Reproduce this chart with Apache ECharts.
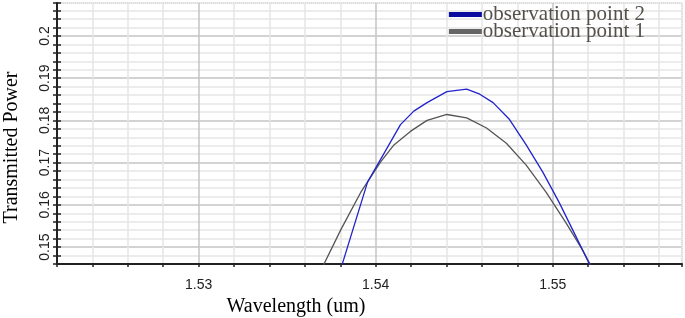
<!DOCTYPE html>
<html>
<head>
<meta charset="utf-8">
<script src="https://cdn.jsdelivr.net/npm/echarts@6/dist/echarts.min.js"></script>
<style>html,body{margin:0;padding:0;background:#fff}#c{width:685px;height:318px}</style>
</head>
<body>
<div id="c"></div>
<script>
// Data
var seriesNames = ['observation point 2', 'observation point 1'];
var wavelength2 = [1.53804, 1.53954, 1.54047, 1.54140, 1.54215, 1.54290, 1.54402, 1.54514, 1.54588, 1.54663, 1.54756, 1.54850, 1.54943, 1.55036, 1.55130, 1.55214];
var power2      = [0.1450, 0.1654, 0.1722, 0.1790, 0.1822, 0.1842, 0.1868, 0.1874, 0.1862, 0.1842, 0.1802, 0.1742, 0.1678, 0.1606, 0.1526, 0.1454];
var wavelength1 = [1.53701, 1.53804, 1.53916, 1.54028, 1.54103, 1.54196, 1.54290, 1.54402, 1.54514, 1.54626, 1.54738, 1.54850, 1.54962, 1.55074, 1.55167, 1.55223];
var power1      = [0.1454, 0.1542, 0.1630, 0.1702, 0.1742, 0.1774, 0.1800, 0.1814, 0.1806, 0.1782, 0.1746, 0.1694, 0.1630, 0.1558, 0.1494, 0.1450];
var xTickLabels = ['1.53', '1.54', '1.55'];
var yTickLabels = ['0.15', '0.16', '0.17', '0.18', '0.19', '0.2'];

function pairs(xs, ys) { return xs.map(function (x, i) { return [x, ys[i]]; }); }
function fmt(v) { return String(+v.toFixed(2)); }

var chart = echarts.init(document.getElementById('c'));
var minor = '#e6e6e6', major = '#c4c4c4';
chart.setOption({
  animation: false,
  backgroundColor: '#fff',
  grid: { left: 57, right: 3, top: 3, bottom: 54, show: true, borderColor: '#8a8a8a', borderWidth: 1, borderType: 'dotted', backgroundColor: 'transparent', containLabel: false, outerBoundsMode: 'none' },
  legend: {
    orient: 'vertical', right: 40, top: 4, padding: 0,
    itemWidth: 33, itemHeight: 5, itemGap: -4, icon: 'rect',
    textStyle: { fontFamily: 'Liberation Serif', fontSize: 21, color: '#55504a', lineHeight: 16, padding: [0, 0, 0, -4] },
    data: [
      { name: seriesNames[0], itemStyle: { color: '#0a0aa0' } },
      { name: seriesNames[1], itemStyle: { color: '#666666' } }
    ]
  },
  xAxis: {
    type: 'value', min: 1.522, max: 1.5573, interval: 0.002,
    name: 'Wavelength (um)', nameLocation: 'middle', nameGap: 23,
    nameTextStyle: { fontFamily: 'Liberation Serif', fontSize: 20, color: '#000', padding: [0, 147, 0, 0] },
    axisLine: { onZero: false, lineStyle: { color: '#222', width: 2 } },
    axisTick: { show: true, length: 3, lineStyle: { color: '#222', width: 1.5 } },
    axisLabel: {
      margin: 14, fontFamily: 'Liberation Sans', fontSize: 14, color: '#222',
      formatter: function (v) { var s = fmt(v); return (Math.abs(v * 100 - Math.round(v * 100)) < 1e-6 && xTickLabels.indexOf(s) >= 0) ? s : ''; }
    },
    splitLine: { show: true, lineStyle: { color: [minor, minor, minor, minor, major], width: 1.5 } }
  },
  yAxis: [{
    type: 'value', min: 0.146, max: 0.2078, interval: 0.002,
    name: 'Transmitted Power', nameLocation: 'middle', nameGap: 35, nameRotate: 90,
    nameTextStyle: { fontFamily: 'Liberation Serif', fontSize: 20, color: '#000', padding: [0, 28, 0, 0] },
    axisLine: { onZero: false, lineStyle: { color: '#222', width: 2 } },
    axisTick: { show: true, length: 4, lineStyle: { color: '#222', width: 1.5 } },
    axisLabel: {
      rotate: 90, margin: 5, fontFamily: 'Liberation Sans', fontSize: 14, color: '#222',
      formatter: function (v) { var s = fmt(v); return (Math.abs(v * 100 - Math.round(v * 100)) < 1e-6 && yTickLabels.indexOf(s) >= 0) ? s : ''; }
    },
    splitLine: { show: true, lineStyle: { color: [minor, minor, major, minor, minor], width: 1.5 } }
  }, {
    type: 'value', min: 0.146, max: 0.2078, interval: 0.002, position: 'left',
    axisLine: { show: false }, axisLabel: { show: false }, splitLine: { show: false },
    axisTick: { show: true, inside: true, length: 4, lineStyle: { color: '#222', width: 1.5 } }
  }],
  series: [
    { name: seriesNames[0], type: 'line', data: pairs(wavelength2, power2), showSymbol: false, color: '#2323cc', lineStyle: { width: 1.3, color: '#2323cc' }, z: 3 },
    { name: seriesNames[1], type: 'line', data: pairs(wavelength1, power1), showSymbol: false, color: '#555555', lineStyle: { width: 1.3, color: '#555555' }, z: 2 }
  ]
});
</script>
</body>
</html>
